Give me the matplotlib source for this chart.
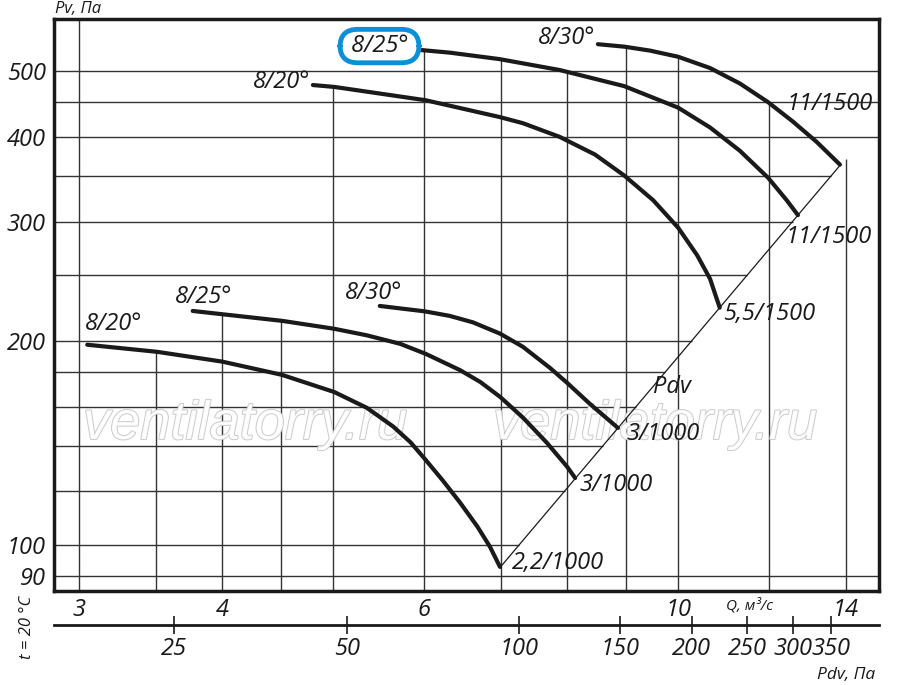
import numpy as np
import matplotlib
matplotlib.use("Agg")
import matplotlib.pyplot as plt
import matplotlib.patheffects as pe
from matplotlib.ticker import NullLocator, FuncFormatter

plt.rcParams["font.family"] = ["Open Sans", "DejaVu Sans"]
plt.rcParams["font.style"] = "italic"

# fan curves: Q in m3/s, Pv in Pa
q_low_20 = [3.05, 3.51, 4.00, 4.51, 5.01, 5.35, 5.64, 5.84, 6.02, 6.23, 6.45, 6.68, 6.85, 6.99]
p_low_20 = [197.4, 192.7, 186.4, 178.2, 168.1, 159.3, 149.5, 141.7, 133.5, 124.5, 115.5, 106.4, 99.4, 92.8]

q_low_25 = [3.77, 4.51, 5.01, 5.35, 5.72, 6.02, 6.45, 6.72, 6.99, 7.32, 7.68, 8.00, 8.13]
p_low_25 = [221.4, 214.1, 208.4, 203.8, 198.0, 191.4, 181.1, 173.9, 165.4, 154.1, 141.5, 130.4, 125.5]

q_low_30 = [5.49, 6.01, 6.32, 6.62, 6.99, 7.32, 7.73, 8.00, 8.38, 8.86]
p_low_30 = [225.2, 221.1, 217.7, 213.0, 205.0, 196.0, 182.4, 173.4, 161.3, 148.8]

q_up_20 = [4.80, 5.01, 6.02, 6.98, 7.32, 7.88, 8.46, 8.97, 9.51, 10.0, 10.39, 10.66, 10.87]
p_up_20 = [477, 474, 453, 428, 419, 400, 376.7, 350.9, 322.5, 293.7, 267.4, 247.0, 223.9]

q_up_25 = [5.84, 6.32, 6.98, 7.88, 8.97, 10.0, 10.66, 11.32, 11.98, 12.44, 12.72]
p_up_25 = [539, 532.5, 521, 502, 475.3, 441.7, 413, 381.5, 348.1, 322.3, 306.6]

q_up_30 = [8.51, 8.97, 9.45, 10.0, 10.66, 11.32, 11.98, 12.59, 13.21, 13.84]
p_up_30 = [548, 543.5, 536.2, 525.1, 505.4, 479.5, 450, 421.4, 393.1, 364]

blade_labels = ["8/20°", "8/25°", "8/30°", "8/20°", "8/25°", "8/30°"]
motor_labels = ["2,2/1000", "3/1000", "3/1000", "5,5/1500", "11/1500", "11/1500"]

# dynamic pressure Pdv = k * Q^2
PDV_K = 1.895

q_ticks = [3, 4, 6, 10, 14]
p_ticks = [90, 100, 200, 300, 400, 500]
q_grid = [3, 3.5, 4, 4.5, 5, 6, 7, 8, 9, 10, 12, 14]
p_grid = [90, 100, 120, 140, 160, 180, 200, 250, 300, 350, 400, 450, 500]
pdv_ticks = [25, 50, 100, 150, 200, 250, 300, 350]

curves = [(q_low_20, p_low_20), (q_low_25, p_low_25), (q_low_30, p_low_30),
          (q_up_20, p_up_20), (q_up_25, p_up_25), (q_up_30, p_up_30)]

fig = plt.figure(figsize=(9, 6.85), dpi=100)
ax = fig.add_axes([54 / 900, 1 - 591 / 685, 825 / 900, 572 / 685])
ax.set_xscale("log")
ax.set_yscale("log")
ax.set_xlim(2.853, 14.97)
ax.set_ylim(85.5, 597)

ink = "#1a1a1a"
grid_c = "#333333"

# Pdv line joins the ends of the curves
diag_q = np.array([q_low_20[-1], q_up_30[-1]])
q_line = np.geomspace(diag_q[0], diag_q[1], 50)
ax.plot(q_line, PDV_K * q_line ** 2, color=ink, lw=0.9, zorder=3)


def top_of(q):
    tops = []
    for cq, cp in curves:
        if cq[0] <= q <= cq[-1]:
            tops.append(10 ** np.interp(np.log10(q), np.log10(cq), np.log10(cp)))
    if not tops and q > diag_q[1] - 0.5:
        tops.append(PDV_K * q ** 2)
    return max(tops) if tops else ax.get_ylim()[1]


for q in q_grid:
    ax.vlines(q, ax.get_ylim()[0], top_of(q), color=grid_c, lw=1.0, zorder=1)

for p in p_grid:
    pmin, pmax = PDV_K * diag_q[0] ** 2, PDV_K * diag_q[1] ** 2
    right = np.sqrt(p / PDV_K) if pmin <= p <= pmax else ax.get_xlim()[1]
    ax.hlines(p, ax.get_xlim()[0], right, color=grid_c, lw=1.0, zorder=1)

for cq, cp in curves:
    ax.plot(cq, cp, color=ink, lw=3.0, solid_capstyle="round",
            solid_joinstyle="round", zorder=4)

# watermark, under the curves
for xw in [245, 655]:
    ax.text(xw / 900, 1 - 425 / 685, "ventilatorry.ru", transform=fig.transFigure,
            ha="center", va="center", fontsize=39, family="Liberation Sans",
            style="italic", color="white", alpha=0.9, zorder=2, clip_on=False,
            path_effects=[pe.withStroke(linewidth=1.3, foreground="#c4c4c4")])

fs = 17
blade_offsets = [(26, 21), (11, 14), (-6, 13), (-31, 3), (-31, 3), (-31, 6)]
for i, (cq, cp) in enumerate(curves):
    txt = blade_labels[i]
    bbox = None
    if i == 4:
        txt = " " + txt + " "
        bbox = dict(boxstyle="round,pad=0.2,rounding_size=0.75", fc="white",
                    ec="#0b8fd8", lw=3.5)
    ax.annotate(txt, (cq[0], cp[0]), xytext=blade_offsets[i],
                textcoords="offset pixels", ha="center", va="center",
                fontsize=fs, color=ink, bbox=bbox, zorder=6)

motor_offsets = [(12, 4), (4, -7), (9, -6), (3, -6), (-12, -22), (-53, 61)]
for i, (cq, cp) in enumerate(curves):
    ax.annotate(motor_labels[i], (cq[-1], cp[-1]), xytext=motor_offsets[i],
                textcoords="offset pixels", ha="left", va="center",
                fontsize=fs, color=ink, zorder=6)

ax.text(9.51, 171, "Pdv", ha="left", va="center", fontsize=fs, color=ink, zorder=6)

ax.xaxis.set_minor_locator(NullLocator())
ax.yaxis.set_minor_locator(NullLocator())
ax.set_xticks(q_ticks)
ax.set_yticks(p_ticks)
ax.xaxis.set_major_formatter(FuncFormatter(lambda v, _: f"{v:g}"))
ax.yaxis.set_major_formatter(FuncFormatter(lambda v, _: f"{v:g}"))
ax.tick_params(axis="both", length=0, labelsize=fs, colors=ink)
ax.tick_params(axis="x", pad=5)
ax.tick_params(axis="y", pad=6)
for s in ax.spines.values():
    s.set_linewidth(2.5)
    s.set_color(ink)

sec = ax.secondary_xaxis(-34 / 572, functions=(lambda q: PDV_K * np.asarray(q) ** 2,
                                                lambda p: np.sqrt(np.maximum(p, 1e-9) / PDV_K)))
sec.set_xticks(pdv_ticks)
sec.xaxis.set_minor_locator(NullLocator())
sec.xaxis.set_major_formatter(FuncFormatter(lambda v, _: f"{v:g}"))
sec.tick_params(direction="inout", length=13, width=1.2, pad=2, labelsize=fs, colors=ink)
sec.spines["bottom"].set_linewidth(2.0)
sec.spines["bottom"].set_color(ink)

fig.text(55 / 900, 1 - 1 / 685, "Pv, Па", ha="left", va="top", fontsize=12, color=ink)
fig.text(749 / 900, 1 - 606 / 685, "Q, м³/с", ha="center", va="center", fontsize=11, color=ink)
fig.text(846 / 900, 1 - 675 / 685, "Pdv, Па", ha="center", va="center", fontsize=12.5, color=ink)
fig.text(27 / 900, 1 - 627 / 685, "t = 20 °C", ha="center", va="center", rotation=90,
         fontsize=12, color=ink)

fig.savefig("out.png", dpi=100)
